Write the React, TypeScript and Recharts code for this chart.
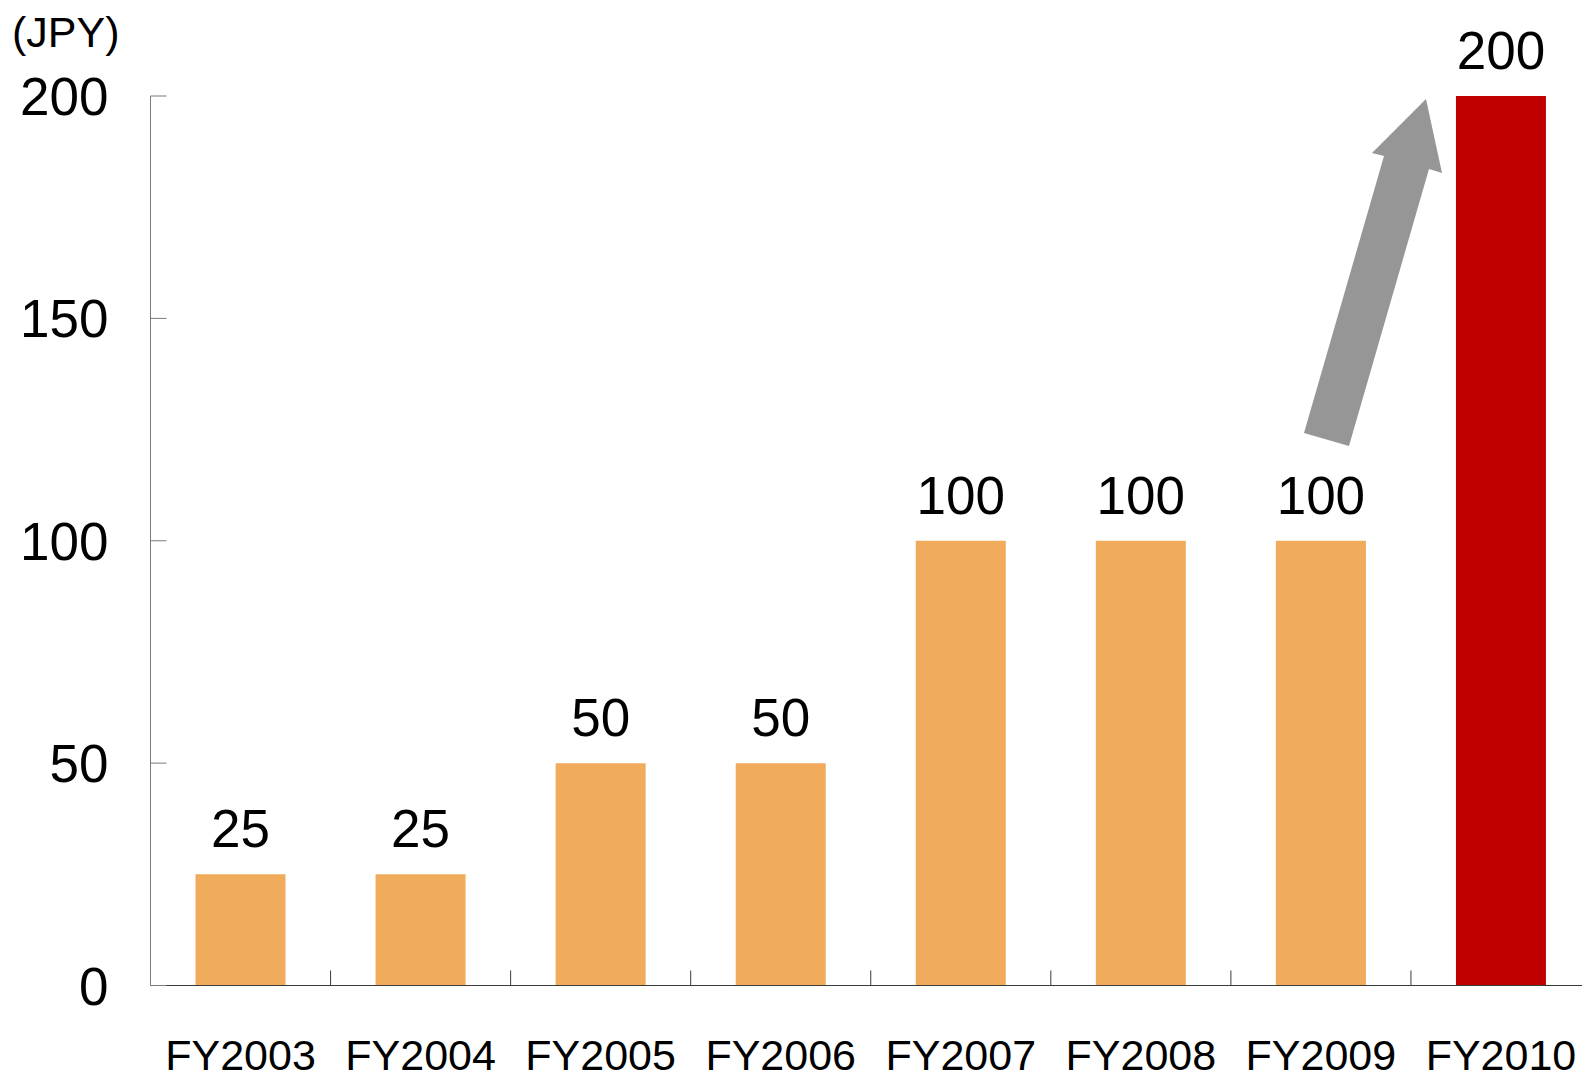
import React from 'react';
import { BarChart, Bar, XAxis, YAxis, Cell, LabelList, ReferenceLine } from 'recharts';

const CATEGORIES = ['FY2003', 'FY2004', 'FY2005', 'FY2006', 'FY2007', 'FY2008', 'FY2009', 'FY2010'];
const DIVIDENDS = [25, 25, 50, 50, 100, 100, 100, 200];
const BAR_COLORS = ['#F0AB5C', '#F0AB5C', '#F0AB5C', '#F0AB5C', '#F0AB5C', '#F0AB5C', '#F0AB5C', '#C00000'];
const Y_TICKS = [0, 50, 100, 150, 200];

const data = CATEGORIES.map((name, i) => ({ name, value: DIVIDENDS[i] }));

const FONT = '"Liberation Sans", Arial, sans-serif';
const Y_AXIS_COLOR = '#7a7a7a';
const X_AXIS_COLOR = '#3a3a3a';

const YTick = (props: any) => {
  const { x, y, payload } = props;
  return (
    <g>
      <line x1={x} x2={x + 16} y1={y} y2={y} stroke={Y_AXIS_COLOR} strokeWidth={1} />
      <text x={x - 42} y={y + 19} textAnchor="end" fontSize={53} fill="#000" fontFamily={FONT}>
        {payload.value}
      </text>
    </g>
  );
};

const XTick = (props: any) => {
  const { x, y, payload } = props;
  return (
    <text x={x} y={y + 84} textAnchor="middle" fontSize={43} fill="#000" fontFamily={FONT}>
      {payload.value}
    </text>
  );
};

// short upward tick at the start of a category band
const BoundaryTick = (props: any) => {
  const { x1, y1, y2 } = props;
  const bottom = Math.max(y1, y2);
  return <line x1={x1} x2={x1} y1={bottom} y2={bottom - 15} stroke={X_AXIS_COLOR} strokeWidth={1} />;
};

const App: React.FC = () => {
  return (
    <div
      style={{
        position: 'absolute',
        left: 0,
        top: 0,
        width: 1582,
        height: 1076,
        overflow: 'hidden',
        background: '#fff',
        fontFamily: FONT,
      }}
    >
      <div style={{ position: 'absolute', left: 12, top: 11, fontSize: 43, lineHeight: '43px', color: '#000' }}>
        (JPY)
      </div>
      <BarChart
        width={1591}
        height={1076}
        data={data}
        margin={{ top: 96, right: 0, bottom: 0, left: 0 }}
        barCategoryGap="25%"
      >
        <YAxis
          width={150.5}
          domain={[0, 200]}
          ticks={Y_TICKS}
          interval={0}
          tickSize={0}
          tickMargin={0}
          tickLine={false}
          axisLine={{ stroke: Y_AXIS_COLOR, strokeWidth: 1 }}
          tick={YTick}
        />
        <XAxis
          dataKey="name"
          interval={0}
          height={90.5}
          tickSize={0}
          tickMargin={0}
          tickLine={false}
          axisLine={{ stroke: X_AXIS_COLOR, strokeWidth: 1 }}
          tick={XTick}
        />
        {CATEGORIES.slice(1).map((c) => (
          <ReferenceLine key={c} x={c} position="start" ifOverflow="visible" shape={BoundaryTick} />
        ))}
        <Bar dataKey="value" isAnimationActive={false}>
          {data.map((d, i) => (
            <Cell key={d.name} fill={BAR_COLORS[i]} />
          ))}
          <LabelList dataKey="value" position="top" offset={27} fontSize={53} fill="#000" fontFamily={FONT} />
        </Bar>
      </BarChart>
      <svg
        width={1582}
        height={1076}
        style={{ position: 'absolute', left: 0, top: 0, pointerEvents: 'none' }}
      >
        <polygon
          points="1304,433 1349,446 1429,169 1442,173 1426,99 1372,153 1384,156"
          fill="#969696"
        />
      </svg>
    </div>
  );
};

export default App;
